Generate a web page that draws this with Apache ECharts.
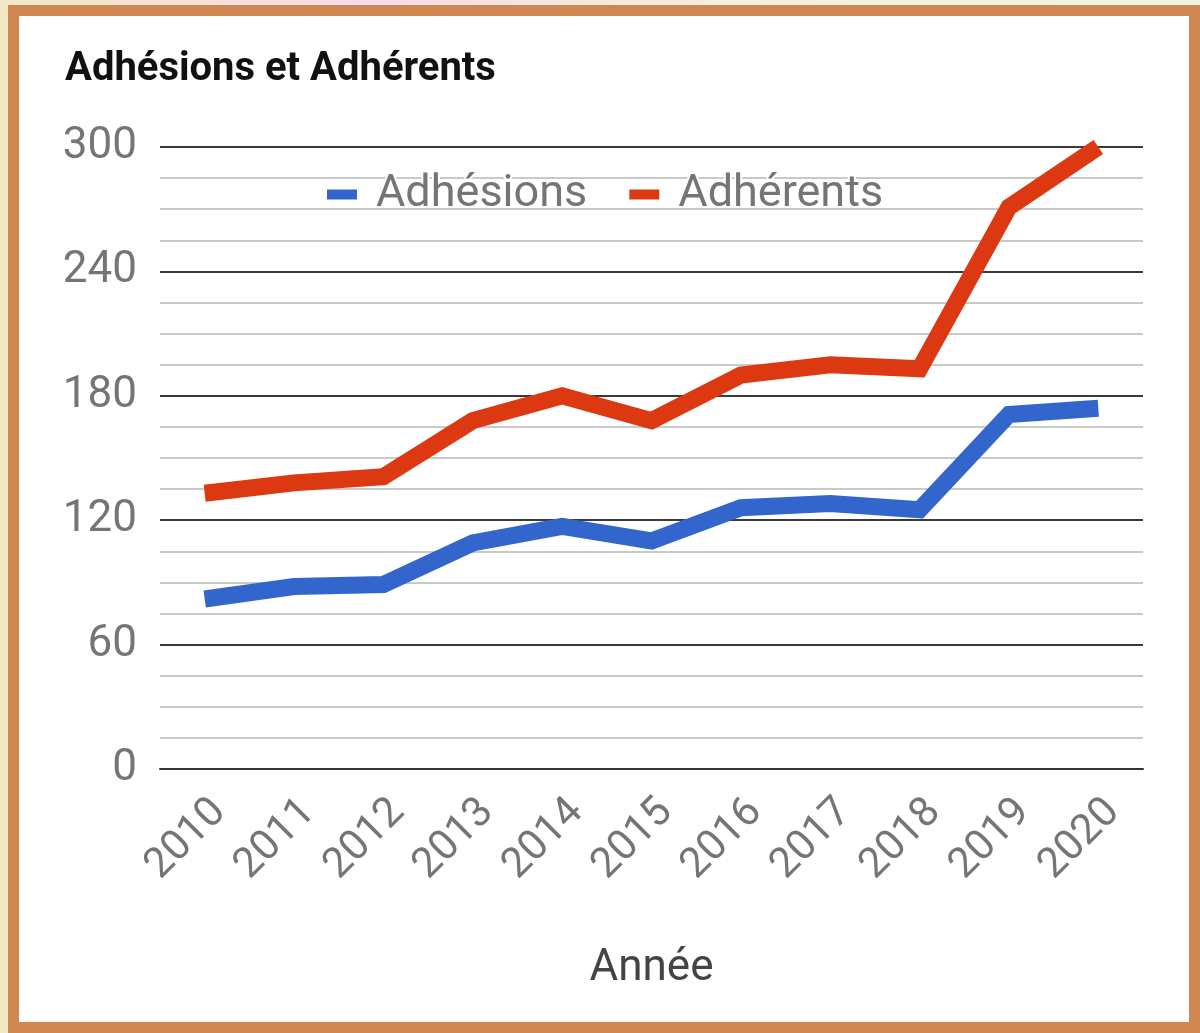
<!DOCTYPE html>
<html>
<head>
<meta charset="utf-8">
<script src="https://cdn.jsdelivr.net/npm/echarts@6/dist/echarts.min.js"></script>
<style>
  html, body { margin: 0; padding: 0; width: 1200px; height: 1033px; overflow: hidden;
    background: linear-gradient(90deg, #f3e9c6 0%, #f6dbe6 30%, #f5f0d8 60%, #f2f2dc 100%); }
  #frame { position: absolute; left: 8px; top: 5px; width: 1170px; height: 1006px;
    border: 11px solid #d08752; background: #ffffff; }
  #chart { position: absolute; left: 0; top: 0; width: 1200px; height: 1033px; }
</style>
</head>
<body>
<div id="frame"></div>
<div id="chart"></div>
<script>
const years = ['2010','2011','2012','2013','2014','2015','2016','2017','2018','2019','2020'];
const adhesions = [82, 88, 89, 109, 117, 110, 126, 128, 125, 171, 174];
const adherents = [133, 138, 141, 168, 180, 168, 190, 195, 193, 271, 300];
const yTicks = [0, 60, 120, 180, 240, 300];

const chart = echarts.init(document.getElementById('chart'), null, { renderer: 'canvas' });
chart.setOption({
  backgroundColor: 'transparent',
  animation: false,
  title: {
    text: 'Adhésions et Adhérents',
    left: 60, top: 45,
    textStyle: { fontFamily: 'Roboto', fontSize: 40, fontWeight: 'bold', color: '#111' }
  },
  legend: {
    data: ['Adhésions', 'Adhérents'],
    left: 322, top: 165,
    itemWidth: 30, itemHeight: 10, itemGap: 40,
    icon: 'rect',
    textStyle: { fontFamily: 'Roboto', fontSize: 45, color: '#757575',
      textBorderColor: '#fff', textBorderWidth: 4, padding: [0, 0, 0, 14] }
  },
  grid: { left: 160, right: 57, top: 147, bottom: 264, containLabel: false },
  xAxis: {
    type: 'category',
    data: years,
    boundaryGap: true,
    name: 'Année',
    nameLocation: 'middle',
    nameGap: 178,
    nameTextStyle: { fontFamily: 'Roboto', fontSize: 44, color: '#444' },
    axisLine: { show: true, lineStyle: { color: '#333', width: 2 } },
    axisTick: { show: false },
    axisLabel: { rotate: 45, margin: 22, verticalAlign: 'top', fontFamily: 'Roboto', fontSize: 42, color: '#757575', interval: 0 }
  },
  yAxis: {
    type: 'value',
    min: yTicks[0], max: yTicks[yTicks.length - 1], interval: 60,
    axisLine: { show: false },
    axisTick: { show: false },
    axisLabel: { margin: 23, fontFamily: 'Roboto', fontSize: 44, color: '#757575' },
    splitLine: { show: true, lineStyle: { color: '#3a3a3a', width: 2 } },
    minorTick: { show: false, splitNumber: 4 },
    minorSplitLine: { show: true, lineStyle: { color: '#b8b8b8', width: 1.5 } }
  },
  series: [
    { name: 'Adhésions', type: 'line', data: adhesions, symbol: 'none', showSymbol: false,
      color: '#3366cc', lineStyle: { width: 17, color: '#3366cc', cap: 'butt', join: 'miter' } },
    { name: 'Adhérents', type: 'line', data: adherents, symbol: 'none', showSymbol: false,
      color: '#dc3912', lineStyle: { width: 17, color: '#dc3912', cap: 'butt', join: 'miter' } }
  ]
});
</script>
</body>
</html>
